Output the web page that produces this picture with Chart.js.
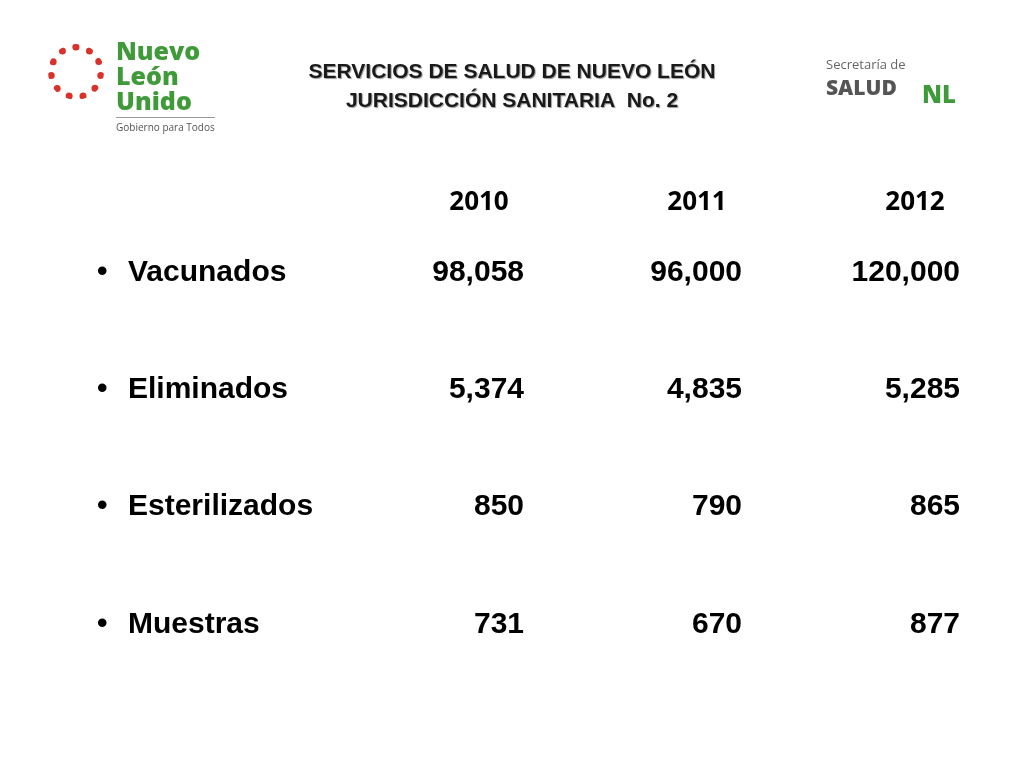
<!DOCTYPE html>
<html>
<head>
<meta charset="utf-8">
<script src="https://cdn.jsdelivr.net/npm/chart.js@4/dist/chart.umd.min.js"></script>
<style>
  body { margin: 0; background: #fff; font-family: "Liberation Sans", Arial, sans-serif; }
  #wrap { position: relative; width: 1024px; height: 768px; }
  canvas { position: absolute; left: 0; top: 0; }
  .title { position: absolute; left: 212px; width: 600px; top: 56px; text-align: center;
           font-weight: bold; font-size: 21px; line-height: 29px; color: #1a1a1a;
           text-shadow: 1px 1px 1px #999; }
  .logoL { position: absolute; left: 116px; top: 38px; font-family: "Open Sans", sans-serif;
           font-weight: 800; color: #3f9a3a; font-size: 25px; line-height: 25px; }
  .logoL small { display: block; font-size: 10px; font-weight: 400; color: #555; line-height: 14px;
                 border-top: 1px solid #999; margin-top: 4px; padding-top: 2px; }
  .dots { position: absolute; left: 48px; top: 44px; width: 56px; height: 56px; border-radius: 50%;
          border: 7px dotted #d9322b; box-sizing: border-box; }
  .logoR { position: absolute; left: 826px; top: 55px; font-family: "Open Sans", sans-serif; color: #666; }
  .logoR .s { font-size: 13px; }
  .logoR .b { font-size: 21px; font-weight: 800; color: #555; }
  .logoR .nl { position: absolute; left: 96px; top: 22px; font-size: 24px; font-weight: 800; color: #3f9a3a; }
</style>
</head>
<body>
<div id="wrap">
  <canvas id="c" width="1024" height="768"></canvas>
  <div class="dots"></div>
  <div class="logoL">Nuevo<br>León<br>Unido<small>Gobierno para Todos</small></div>
  <div class="title">SERVICIOS DE SALUD DE NUEVO LEÓN<br>JURISDICCIÓN SANITARIA&nbsp; No. 2</div>
  <div class="logoR"><div class="s">Secretaría de</div><div class="b">SALUD</div><div class="nl">NL</div></div>
</div>
<script>
const years = ['2010', '2011', '2012'];
const rows = ['Vacunados', 'Eliminados', 'Esterilizados', 'Muestras'];
const vacunados = [98058, 96000, 120000];
const eliminados = [5374, 4835, 5285];
const esterilizados = [850, 790, 865];
const muestras = [731, 670, 877];
const series = [vacunados, eliminados, esterilizados, muestras];

const fmt = v => v.toLocaleString('en-US');

// one hidden point per cell; the plugin writes the number at its position
const datasets = rows.map((r, ri) => ({
    label: r,
    data: years.map((y, yi) => ({ x: y, y: r, v: series[ri][yi] })),
    pointRadius: 0
}));

const tablePlugin = {
    id: 'tableText',
    afterDatasetsDraw(chart) {
        const ctx = chart.ctx;
        const xs = chart.scales.x, ys = chart.scales.y;
        ctx.save();
        ctx.fillStyle = '#000';
        ctx.textBaseline = 'middle';
        // year header
        ctx.font = 'bold 26px "Open Sans", sans-serif';
        ctx.textAlign = 'center';
        years.forEach(y => ctx.fillText(y, xs.getPixelForValue(y) + 40, 203));
        // row labels
        ctx.font = 'bold 30px "Liberation Sans", Arial, sans-serif';
        ctx.textAlign = 'left';
        rows.forEach(r => {
            const py = ys.getPixelForValue(r);
            ctx.fillText('•', 97, py);
            ctx.fillText(r, 128, py);
        });
        // cells
        ctx.textAlign = 'right';
        chart.data.datasets.forEach((ds, di) => {
            chart.getDatasetMeta(di).data.forEach((pt, i) => {
                ctx.fillText(fmt(ds.data[i].v), pt.x + 85, pt.y);
            });
        });
        ctx.restore();
    }
};

new Chart(document.getElementById('c'), {
    type: 'scatter',
    data: { datasets },
    options: {
        responsive: false,
        animation: false,
        layout: { padding: { left: 330, right: 40, top: 214, bottom: 85 } },
        plugins: { legend: { display: false }, tooltip: { enabled: false } },
        scales: {
            x: { type: 'category', labels: years, offset: true, display: false },
            y: { type: 'category', labels: rows, offset: true, display: false }
        }
    },
    plugins: [tablePlugin]
});
</script>
</body>
</html>
